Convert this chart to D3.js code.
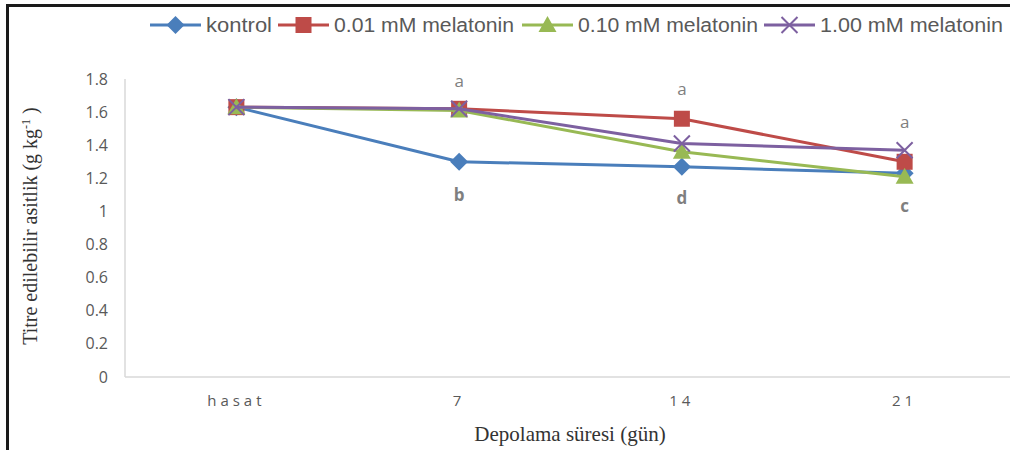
<!DOCTYPE html>
<html>
<head>
<meta charset="utf-8">
<script src="https://cdn.jsdelivr.net/npm/d3@7"></script>
<style>
  body { margin: 0; background: #fff; }
  svg { display: block; }
</style>
</head>
<body>
<script>
// chart data
var categories = ["hasat", "7", "14", "21"];
var seriesNames = ["kontrol", "0.01 mM melatonin", "0.10 mM melatonin", "1.00 mM melatonin"];
var kontrol = [1.63, 1.30, 1.27, 1.23];
var mel001 = [1.63, 1.62, 1.56, 1.30];
var mel010 = [1.63, 1.61, 1.36, 1.21];
var mel100 = [1.63, 1.62, 1.41, 1.37];
var yTicks = [0, 0.2, 0.4, 0.6, 0.8, 1, 1.2, 1.4, 1.6, 1.8];
// significance letters
var letterCats = ["7", "7", "14", "14", "21", "21"];
var letters = ["a", "b", "a", "d", "a", "c"];
var letterVals = [1.79, 1.10, 1.74, 1.08, 1.54, 1.03];
var letterBold = [false, true, false, true, false, true];

var width = 1010, height = 450;
var colors = ["#4A7EBB", "#BE4B48", "#98B954", "#7D60A0"];
var allSeries = [kontrol, mel001, mel010, mel100];

var svg = d3.select("body").append("svg")
  .attr("width", width)
  .attr("height", height);

// frame edges (top and left)
svg.append("rect").attr("x", 6).attr("y", 4).attr("width", width).attr("height", 3).attr("fill", "#1a1a1a");
svg.append("rect").attr("x", 6).attr("y", 4).attr("width", 3).attr("height", height).attr("fill", "#1a1a1a");

var x = d3.scaleBand()
  .domain(categories)
  .range([125, 1016]);

var y = d3.scaleLinear()
  .domain([0, 1.8])
  .range([377, 79]);

// axes lines
svg.append("line")
  .attr("x1", 125).attr("x2", 125)
  .attr("y1", y(1.8)).attr("y2", y(0))
  .attr("stroke", "#D9D9D9").attr("stroke-width", 1.5);
svg.append("line")
  .attr("x1", 125).attr("x2", width)
  .attr("y1", y(0)).attr("y2", y(0))
  .attr("stroke", "#D9D9D9").attr("stroke-width", 1.5);

// y tick labels
svg.selectAll(".ytick")
  .data(yTicks)
  .enter().append("text")
  .attr("class", "ytick")
  .attr("x", 108)
  .attr("y", function(d) { return y(d); })
  .attr("dy", "0.35em")
  .attr("text-anchor", "end")
  .attr("font-family", "Open Sans, sans-serif")
  .attr("font-size", 16)
  .attr("fill", "#595959")
  .text(function(d) { return d; });

// x tick labels (letter spaced)
svg.selectAll(".xtick")
  .data(categories)
  .enter().append("text")
  .attr("class", "xtick")
  .attr("x", function(d) { return x(d) + x.bandwidth() / 2; })
  .attr("y", 406)
  .attr("text-anchor", "middle")
  .attr("font-family", "Open Sans, sans-serif")
  .attr("font-size", 15)
  .attr("letter-spacing", 4)
  .attr("fill", "#595959")
  .text(function(d) { return d; });

// axis titles
svg.append("text")
  .attr("x", 570).attr("y", 441)
  .attr("text-anchor", "middle")
  .attr("font-family", "Liberation Serif, serif")
  .attr("font-size", 21)
  .attr("fill", "#333")
  .text("Depolama süresi (gün)");

var yTitle = svg.append("text")
  .attr("transform", "translate(37,226) rotate(-90)")
  .attr("text-anchor", "middle")
  .attr("font-family", "Liberation Serif, serif")
  .attr("font-size", 20)
  .attr("fill", "#333");
yTitle.append("tspan").text("Titre edilebilir  asitlik  (g kg");
yTitle.append("tspan").attr("dy", -7).attr("font-size", 12).text("-1");
yTitle.append("tspan").attr("dy", 7).text(" )");

var line = d3.line()
  .x(function(d, i) { return x(categories[i]) + x.bandwidth() / 2; })
  .y(function(d) { return y(d); });

function drawMarker(g, k, cx, cy) {
  var c = colors[k];
  if (k === 0) {
    g.append("path")
      .attr("d", "M" + cx + "," + (cy - 9) + "L" + (cx + 9) + "," + cy + "L" + cx + "," + (cy + 9) + "L" + (cx - 9) + "," + cy + "Z")
      .attr("fill", c);
  } else if (k === 1) {
    g.append("rect")
      .attr("x", cx - 8).attr("y", cy - 8).attr("width", 16).attr("height", 16)
      .attr("fill", c);
  } else if (k === 2) {
    g.append("path")
      .attr("d", "M" + cx + "," + (cy - 9) + "L" + (cx + 9) + "," + (cy + 7) + "L" + (cx - 9) + "," + (cy + 7) + "Z")
      .attr("fill", c);
  } else {
    g.append("path")
      .attr("d", "M" + (cx - 8) + "," + (cy - 8) + "L" + (cx + 8) + "," + (cy + 8) + "M" + (cx + 8) + "," + (cy - 8) + "L" + (cx - 8) + "," + (cy + 8))
      .attr("stroke", c).attr("stroke-width", 2).attr("fill", "none");
  }
}

// series lines and markers
allSeries.forEach(function(vals, k) {
  var g = svg.append("g");
  g.append("path")
    .datum(vals)
    .attr("d", line)
    .attr("fill", "none")
    .attr("stroke", colors[k])
    .attr("stroke-width", 3)
    .attr("stroke-linejoin", "round");
  vals.forEach(function(v, i) {
    drawMarker(g, k, x(categories[i]) + x.bandwidth() / 2, y(v));
  });
});

// significance letters
letters.forEach(function(l, i) {
  svg.append("text")
    .attr("x", x(letterCats[i]) + x.bandwidth() / 2)
    .attr("y", y(letterVals[i]))
    .attr("dy", "0.35em")
    .attr("text-anchor", "middle")
    .attr("font-family", "Open Sans, sans-serif")
    .attr("font-size", 17)
    .attr("font-weight", letterBold[i] ? "bold" : "normal")
    .attr("fill", "#7F7F7F")
    .text(l);
});

// legend
var legendX = [150, 278, 522, 764];
var legendTextW = [66, 180, 180, 183];
seriesNames.forEach(function(name, k) {
  var g = svg.append("g");
  var lx = legendX[k];
  g.append("line")
    .attr("x1", lx).attr("x2", lx + 51)
    .attr("y1", 25).attr("y2", 25)
    .attr("stroke", colors[k]).attr("stroke-width", 3);
  drawMarker(g, k, lx + 25.5, 25);
  g.append("text")
    .attr("x", lx + 56).attr("y", 25)
    .attr("dy", "0.35em")
    .attr("font-family", "Liberation Sans, sans-serif")
    .attr("font-size", 20)
    .attr("textLength", legendTextW[k])
    .attr("lengthAdjust", "spacingAndGlyphs")
    .attr("fill", "#595959")
    .text(name);
});
</script>
</body>
</html>
